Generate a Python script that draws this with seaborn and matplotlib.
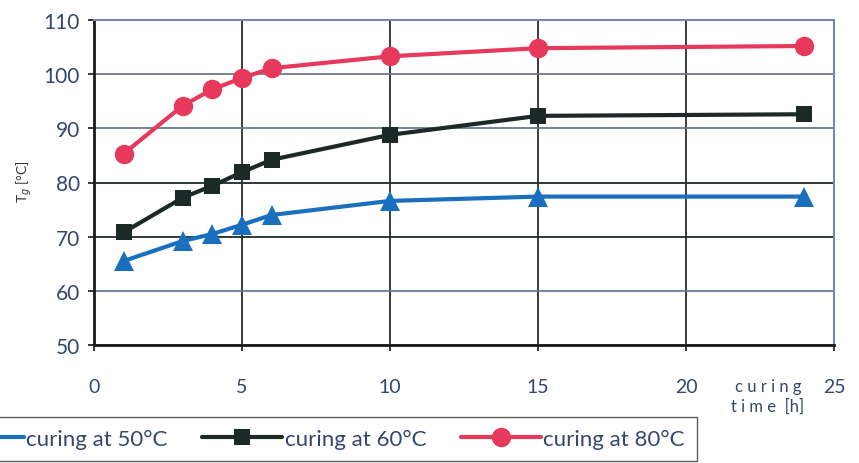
import matplotlib
matplotlib.use("Agg")
import matplotlib.pyplot as plt
import seaborn as sns
import pandas as pd

hours_50 = [1, 3, 4, 5, 6, 10, 15, 24]
tg_50 = [65.5, 69.2, 70.5, 72.2, 74.0, 76.6, 77.4, 77.4]
hours_60 = [1, 3, 4, 5, 6, 10, 15, 24]
tg_60 = [70.8, 77.2, 79.4, 81.9, 84.2, 88.8, 92.3, 92.6]
hours_80 = [1, 3, 4, 5, 6, 10, 15, 24]
tg_80 = [85.3, 94.2, 97.2, 99.3, 101.1, 103.3, 104.8, 105.2]
series_labels = ["curing at 50°C", "curing at 60°C", "curing at 80°C"]
x_ticks = [0, 5, 10, 15, 20, 25]
y_ticks = [50, 60, 70, 80, 90, 100, 110]

sns.set_theme(style="white")
plt.rcParams["font.family"] = ["Lato", "DejaVu Sans"]

fig = plt.figure(figsize=(8.59, 4.64), dpi=100)
ax = fig.add_axes([94/859, 1-346/464, (834-94)/859, (346-21)/464])

styles = [
    (hours_50, tg_50, "#1b6fbf", "^", 14),
    (hours_60, tg_60, "#1c2a27", "s", 12),
    (hours_80, tg_80, "#e6395c", "o", 14),
]
for (xs, ys, col, mk, ms), lab in zip(styles, series_labels):
    df = pd.DataFrame({"x": xs, "y": ys})
    sns.lineplot(data=df, x="x", y="y", ax=ax, color=col, marker=mk,
                 markersize=ms, linewidth=3, markeredgewidth=0, label=lab)

ax.set_xlim(0, 25)
ax.set_ylim(50, 110)
ax.set_xticks(x_ticks)
ax.set_yticks(y_ticks)
ax.set_xlabel("")
ax.set_ylabel("")
tick_col = "#34466e"
ax.tick_params(axis="x", labelsize=14, colors=tick_col, pad=20, length=4,
               direction="out", bottom=True, color="#222222")
ax.tick_params(axis="y", labelsize=15, colors=tick_col, pad=6, length=4,
               direction="out", left=True, color="#222222")
ax.grid(True, linewidth=1.3)
for gl, v in zip(ax.get_ygridlines(), y_ticks):
    gl.set_color("#1e2a2a" if v in (70, 80) else "#6a7896")
for gl in ax.get_xgridlines():
    gl.set_color("#1a1a1a")
    gl.set_linewidth(1.2)
for s in ["left", "bottom"]:
    ax.spines[s].set_color("#1a1a1a")
    ax.spines[s].set_linewidth(2)
for s in ["top", "right"]:
    ax.spines[s].set_color("#7a86a6")
    ax.spines[s].set_linewidth(1.5)

fig.text(24/859, 1-182/464, "T$_g$ [°C]", rotation=90, fontsize=10,
         color="#333333", ha="center", va="center")
fig.text(768/859, 1-397/464, "c u r i n g\nt i m e  [h]", fontsize=12,
         color="#34466e", ha="center", va="center", linespacing=1.3)

ax.get_legend().remove()
handles, labels = ax.get_legend_handles_labels()
leg = fig.legend(handles, labels, loc="lower left",
                 bbox_to_anchor=(-0.08, 0.004), borderaxespad=0, ncol=3,
                 fontsize=16, frameon=True, fancybox=False,
                 edgecolor="#333333", handlelength=3.6, handletextpad=0.12,
                 columnspacing=1.55, borderpad=0.55, labelcolor="#34466e")
leg.get_frame().set_linewidth(1.0)

fig.savefig("out.png", dpi=100)
